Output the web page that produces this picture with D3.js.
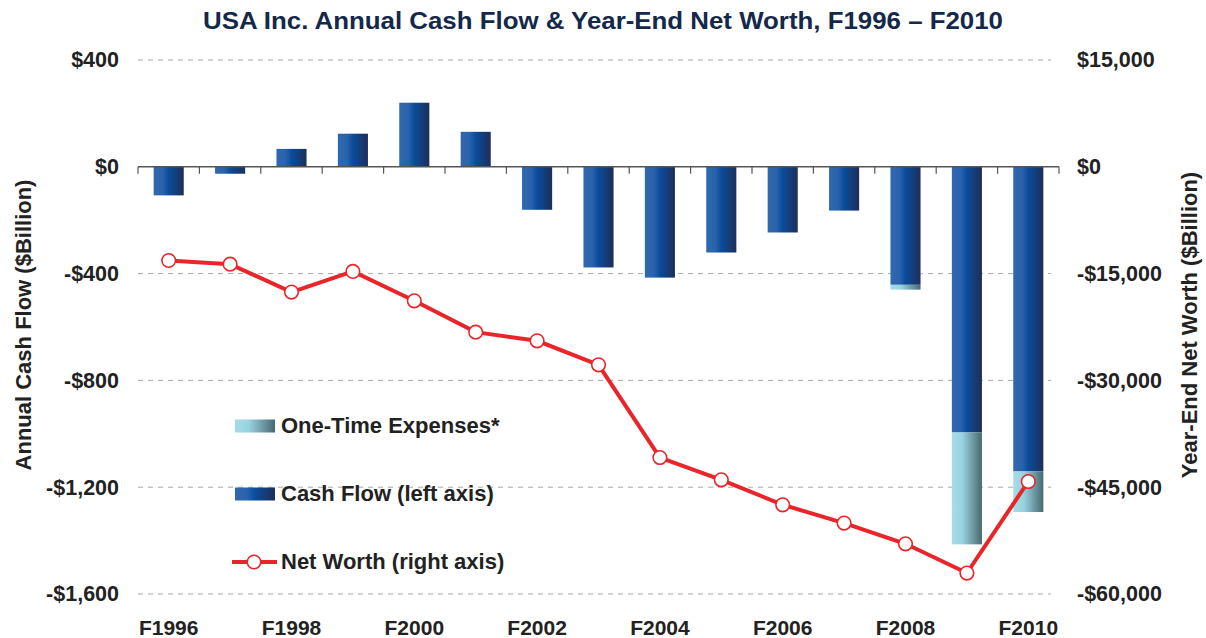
<!DOCTYPE html>
<html>
<head>
<meta charset="utf-8">
<script src="https://cdn.jsdelivr.net/npm/d3@7"></script>
<style>
  body { margin: 0; background: #fff; }
  text { font-family: "Liberation Sans", Arial, sans-serif; font-weight: bold; }
</style>
</head>
<body>
<div id="chart"></div>
<script>
// ---- data ----
var years = ["F1996","F1997","F1998","F1999","F2000","F2001","F2002","F2003",
             "F2004","F2005","F2006","F2007","F2008","F2009","F2010"];
var cashFlow = [-107, -26, 67, 124, 240, 131, -161, -377, -415, -321, -246, -164, -442, -995, -1141];
var oneTime  = [0, 0, 0, 0, 0, 0, 0, 0, 0, 0, 0, 0, -18, -419, -152];
var netWorth = [-13160, -13670, -17600, -14700, -18820, -23220, -24440, -27810,
                -40830, -43960, -47470, -50040, -52950, -57060, -44200];
var leftTicks  = [400, 0, -400, -800, -1200, -1600];
var rightTicks = [15000, 0, -15000, -30000, -45000, -60000];
var xLabels = ["F1996","F1998","F2000","F2002","F2004","F2006","F2008","F2010"];

// ---- setup ----
var svgWidth = 1206, svgHeight = 638;
var margin = { top: 60, right: 147, bottom: 44, left: 138 };
var chartWidth = svgWidth - margin.left - margin.right;
var chartHeight = svgHeight - margin.top - margin.bottom;

var svg = d3.select("#chart").append("svg")
    .attr("width", svgWidth)
    .attr("height", svgHeight);

var defs = svg.append("defs");
var g1 = defs.append("linearGradient").attr("id", "gradCash")
    .attr("x1", "0%").attr("x2", "100%").attr("y1", "0%").attr("y2", "0%");
g1.append("stop").attr("offset", "0%").attr("stop-color", "#3068b0");
g1.append("stop").attr("offset", "30%").attr("stop-color", "#2a62ac");
g1.append("stop").attr("offset", "50%").attr("stop-color", "#0a4c9c");
g1.append("stop").attr("offset", "100%").attr("stop-color", "#1e2e58");
var g2 = defs.append("linearGradient").attr("id", "gradOne")
    .attr("x1", "0%").attr("x2", "100%").attr("y1", "0%").attr("y2", "0%");
g2.append("stop").attr("offset", "0%").attr("stop-color", "#a6dcea");
g2.append("stop").attr("offset", "35%").attr("stop-color", "#98d2e0");
g2.append("stop").attr("offset", "100%").attr("stop-color", "#486870");

var chartGroup = svg.append("g")
    .attr("transform", `translate(${margin.left}, ${margin.top})`);

// ---- scales ----
var xScale = d3.scaleBand().domain(years).range([0, chartWidth]).paddingInner(0.51).paddingOuter(0.255);
var yLeft = d3.scaleLinear().domain([-1600, 400]).range([chartHeight, 0]);
var yRight = d3.scaleLinear().domain([-60000, 15000]).range([chartHeight, 0]);

// ---- grid lines ----
chartGroup.append("g").selectAll("line")
    .data(leftTicks.filter(d => d !== 0))
    .enter().append("line")
    .attr("x1", 0).attr("x2", chartWidth - 8)
    .attr("y1", d => yLeft(d)).attr("y2", d => yLeft(d))
    .attr("stroke", "#a8a8a8")
    .attr("stroke-width", 1)
    .attr("stroke-dasharray", "5,5");

// ---- axes ----
var money = d => (d < 0 ? "-$" : "$") + d3.format(",")(Math.abs(d));

var leftAxis = d3.axisLeft(yLeft).tickValues(leftTicks).tickSize(0).tickPadding(19).tickFormat(money);
var gl = chartGroup.append("g").call(leftAxis);
gl.select(".domain").remove();
gl.selectAll("text").attr("font-size", 21.5).attr("fill", "#222");

var rightAxis = d3.axisRight(yRight).tickValues(rightTicks).tickSize(0).tickPadding(18).tickFormat(money);
var gr = chartGroup.append("g").attr("transform", `translate(${chartWidth}, 0)`).call(rightAxis);
gr.select(".domain").remove();
gr.selectAll("text").attr("font-size", 21.5).attr("fill", "#222");

// ---- bars ----
var bw = xScale.bandwidth();
chartGroup.append("g").selectAll("rect")
    .data(years).enter().append("rect")
    .attr("x", (d, i) => xScale(d))
    .attr("width", bw)
    .attr("y", (d, i) => yLeft(Math.max(0, cashFlow[i])))
    .attr("height", (d, i) => Math.abs(yLeft(cashFlow[i]) - yLeft(0)))
    .attr("fill", "url(#gradCash)");

// one-time expenses stacked below the cash flow bar
chartGroup.append("g").selectAll("rect")
    .data(years.filter((d, i) => oneTime[i] !== 0)).enter().append("rect")
    .attr("x", d => xScale(d))
    .attr("width", bw)
    .attr("y", d => yLeft(cashFlow[years.indexOf(d)]))
    .attr("height", d => yLeft(cashFlow[years.indexOf(d)] + oneTime[years.indexOf(d)]) - yLeft(cashFlow[years.indexOf(d)]))
    .attr("fill", "url(#gradOne)");

// ---- zero line with ticks ----
var zero = chartGroup.append("g").attr("transform", `translate(0, ${yLeft(0)})`);
zero.append("line").attr("x1", 0).attr("x2", chartWidth)
    .attr("stroke", "#555").attr("stroke-width", 1.5);
zero.selectAll(".tk").data(d3.range(years.length + 1)).enter().append("line")
    .attr("class", "tk")
    .attr("x1", i => i * xScale.step()).attr("x2", i => i * xScale.step())
    .attr("y1", 0).attr("y2", 7)
    .attr("stroke", "#555").attr("stroke-width", 1.2);

// ---- x labels ----
chartGroup.append("g").selectAll("text")
    .data(xLabels).enter().append("text")
    .attr("x", d => xScale(d) + bw / 2)
    .attr("y", chartHeight + 41)
    .attr("text-anchor", "middle")
    .attr("font-size", 21)
    .attr("fill", "#222")
    .text(d => d);

// ---- net worth line ----
var line = d3.line()
    .x((d, i) => xScale(years[i]) + bw / 2)
    .y(d => yRight(d));
chartGroup.append("path")
    .datum(netWorth)
    .attr("d", line)
    .attr("fill", "none")
    .attr("stroke", "#e8262a")
    .attr("stroke-width", 4);
chartGroup.append("g").selectAll("circle")
    .data(netWorth).enter().append("circle")
    .attr("cx", (d, i) => xScale(years[i]) + bw / 2)
    .attr("cy", d => yRight(d))
    .attr("r", 6.8)
    .attr("fill", "#fff")
    .attr("stroke", "#e8262a")
    .attr("stroke-width", 1.6);

// ---- title and axis titles ----
svg.append("text")
    .attr("x", 603).attr("y", 29)
    .attr("text-anchor", "middle")
    .attr("font-size", 24)
    .attr("fill", "#14284a")
    .attr("textLength", 800)
    .attr("lengthAdjust", "spacingAndGlyphs")
    .text("USA Inc. Annual Cash Flow & Year-End Net Worth, F1996 – F2010");

svg.append("text")
    .attr("transform", "translate(31, 325) rotate(-90)")
    .attr("text-anchor", "middle")
    .attr("font-size", 22)
    .attr("fill", "#222")
    .text("Annual Cash Flow ($Billion)");

svg.append("text")
    .attr("transform", "translate(1197, 325) rotate(-90)")
    .attr("text-anchor", "middle")
    .attr("font-size", 22)
    .attr("fill", "#222")
    .text("Year-End Net Worth ($Billion)");

// ---- legend ----
var legend = svg.append("g");
var legendItems = [
    { label: "One-Time Expenses*", kind: "gradOne", y: 426 },
    { label: "Cash Flow (left axis)", kind: "gradCash", y: 494 },
    { label: "Net Worth (right axis)", kind: "line", y: 562 }
];
legendItems.forEach(function (it) {
    if (it.kind === "line") {
        legend.append("line").attr("x1", 232).attr("x2", 277)
            .attr("y1", it.y).attr("y2", it.y)
            .attr("stroke", "#e8262a").attr("stroke-width", 4);
        legend.append("circle").attr("cx", 254).attr("cy", it.y).attr("r", 6.8)
            .attr("fill", "#fff").attr("stroke", "#e8262a").attr("stroke-width", 1.6);
    } else {
        legend.append("rect").attr("x", 235).attr("y", it.y - 6.5)
            .attr("width", 40).attr("height", 13)
            .attr("fill", `url(#${it.kind})`);
    }
    legend.append("text").attr("x", 281).attr("y", it.y + 7)
        .attr("font-size", 22).attr("fill", "#222")
        .text(it.label);
});
</script>
</body>
</html>
